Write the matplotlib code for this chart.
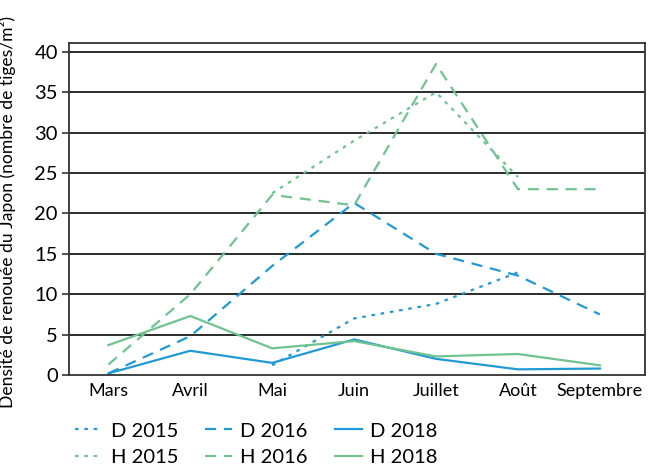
import matplotlib
matplotlib.use("Agg")
import matplotlib.pyplot as plt
import numpy as np

plt.rcParams['font.family'] = ['Lato', 'DejaVu Sans']

months = ["Mars", "Avril", "Mai", "Juin", "Juillet", "Août", "Septembre"]
d2015 = [None, None, 1.2, 7.0, 8.8, 12.7, None]
d2016 = [0.2, 4.8, 13.5, 21.3, 15.0, 12.3, 7.5]
d2018 = [0.2, 3.0, 1.5, 4.4, 2.0, 0.7, 0.8]
h2015 = [None, None, 22.5, 29.0, 35.0, 24.5, None]
h2016 = [1.3, 10.0, 22.3, 21.0, 38.5, 23.0, 23.0]
h2018 = [3.7, 7.3, 3.3, 4.2, 2.3, 2.6, 1.2]
yticks = [0, 5, 10, 15, 20, 25, 30, 35, 40]

blue = "#2199d4"
green = "#70c390"

def arr(v):
    return np.array([np.nan if x is None else x for x in v], dtype=float)

fig = plt.figure(figsize=(6.58, 4.72), dpi=100)
ax = fig.add_axes([0.105, 0.2055, 0.875, 0.7035])
x = np.arange(len(months))

dotted = (0, (1.6, 2.6))
dashed = (0, (5, 3.5))
lw = 1.6
l1, = ax.plot(x, arr(d2015), color=blue, lw=lw, linestyle=dotted, label="D 2015")
l2, = ax.plot(x, arr(d2016), color=blue, lw=lw, linestyle=dashed, label="D 2016")
l3, = ax.plot(x, arr(d2018), color=blue, lw=lw, linestyle='-', label="D 2018")
l4, = ax.plot(x, arr(h2015), color=green, lw=lw, linestyle=dotted, label="H 2015")
l5, = ax.plot(x, arr(h2016), color=green, lw=lw, linestyle=dashed, label="H 2016")
l6, = ax.plot(x, arr(h2018), color=green, lw=lw, linestyle='-', label="H 2018")

for y in yticks[1:]:
    ax.axhline(y, color="#1a1a1a", lw=1.3, zorder=0)

ax.set_xlim(-0.48, 6.55)
ax.set_ylim(0, 41.1)
ax.set_yticks(yticks)
ax.set_xticks(x)
ax.set_xticklabels(months, fontsize=13)
ax.tick_params(axis='y', labelsize=14.5, length=5, width=1.2, color="#333333", pad=3)
ax.tick_params(axis='x', length=0, pad=6)
for s in ax.spines.values():
    s.set_color("#333333")
    s.set_linewidth(1.3)

ax.set_ylabel("Densité de renouée du Japon (nombre de tiges/m²)", fontsize=12.6)
ax.yaxis.set_label_coords(-0.092, 0.49)

handles = [l1, l4, l2, l5, l3, l6]
fig.legend(handles=handles, labels=[h.get_label() for h in handles], ncol=3,
           loc='lower center', bbox_to_anchor=(0.39, -0.025), frameon=False,
           fontsize=14.5, handlelength=1.35, handletextpad=0.4, columnspacing=1.35,
           labelspacing=0.45)

fig.savefig("out.png", dpi=100)
